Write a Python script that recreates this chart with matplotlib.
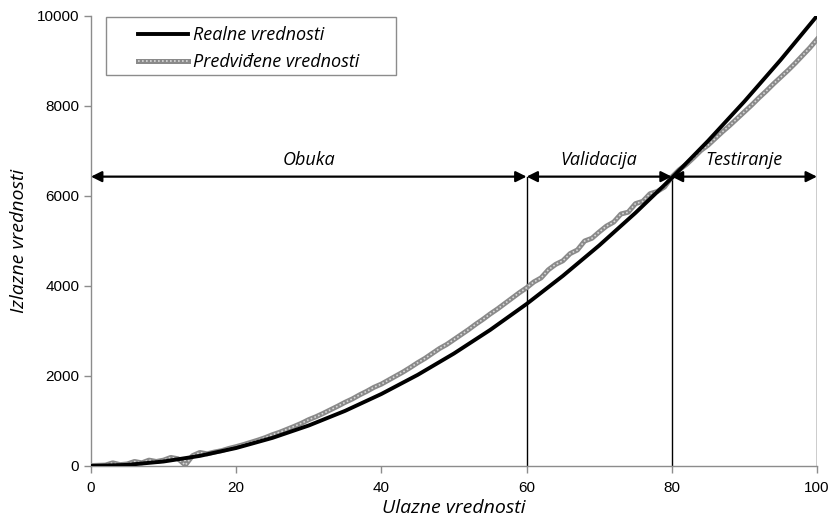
import matplotlib
matplotlib.use("Agg")
import matplotlib.pyplot as plt
from matplotlib.patches import Rectangle

# data
x_real = [0, 5, 10, 15, 20, 25, 30, 35, 40, 45, 50,
          55, 60, 65, 70, 75, 80, 85, 90, 95, 100]
y_real = [0, 25, 100, 225, 400, 625, 900, 1225, 1600, 2025, 2500,
          3025, 3600, 4225, 4900, 5625, 6400, 7225, 8100, 9025, 10000]

x_pred = list(range(0, 101))
y_pred = [10, 15, 20, 70, 30, 45, 100, 70, 130, 100,
          130, 190, 160, 20, 230, 300, 270, 310, 340, 390,
          430, 475, 525, 575, 630, 695, 750, 815, 880, 950,
          1030, 1095, 1170, 1250, 1330, 1415, 1490, 1580, 1660, 1750,
          1820, 1910, 2000, 2090, 2190, 2295, 2390, 2500, 2610, 2700,
          2810, 2920, 3030, 3150, 3260, 3380, 3490, 3610, 3730, 3850,
          3960, 4090, 4180, 4360, 4480, 4560, 4720, 4800, 5000, 5060,
          5200, 5330, 5420, 5600, 5640, 5830, 5880, 6050, 6100, 6200,
          6420, 6580, 6700, 6850, 7010, 7130, 7280, 7430, 7570, 7720,
          7870, 8020, 8180, 8330, 8490, 8640, 8790, 8950, 9120, 9290,
          9480]

# phases: (start, end, label)
phase_bounds = [(0, 60), (60, 80), (80, 100)]
phase_labels = ['Obuka', 'Validacija', 'Testiranje']
arrow_y = 6430

label_font = 'Open Sans'
tick_font = 'Liberation Sans'

fig = plt.figure(figsize=(8.3, 5.29), dpi=100)
ax = fig.add_axes([0.1096, 0.1191, 0.8747, 0.8507])

# predicted series: gray band with light speckle on top
l_pred_a, = ax.plot(x_pred, y_pred, color='#8a8a8a', lw=3.6,
                    solid_joinstyle='round', zorder=3)
l_pred_b, = ax.plot(x_pred, y_pred, color='#d8d8d8', lw=1.2,
                    linestyle=(0, (1, 1.4)), zorder=4)
# real series
l_real, = ax.plot(x_real, y_real, color='black', lw=2.8, zorder=5)

# vertical dividers + phase arrows
for (start, end), lab in zip(phase_bounds, phase_labels):
    top = 10000 if end == 100 else arrow_y
    ax.plot([end, end], [0, top], color='black', lw=1.0, zorder=2)
    ax.annotate('', xy=(start, arrow_y), xytext=(end, arrow_y),
                arrowprops=dict(arrowstyle='<|-|>', color='black', lw=1.6,
                                mutation_scale=16, shrinkA=0, shrinkB=0),
                zorder=6)
    ax.text((start + end) / 2, arrow_y + 180, lab, ha='center', va='bottom',
            fontsize=13, style='italic', family=label_font)

ax.set_xlim(0, 100)
ax.set_ylim(0, 10000)
ax.set_xticks([0, 20, 40, 60, 80, 100])
ax.set_yticks([0, 2000, 4000, 6000, 8000, 10000])

for s in ['top', 'right']:
    ax.spines[s].set_visible(False)
for s in ['left', 'bottom']:
    ax.spines[s].set_color('#8c8c8c')
    ax.spines[s].set_linewidth(1.0)
ax.tick_params(colors='#8c8c8c', length=5, width=1.0, labelcolor='black',
               labelsize=11)
for lab in ax.get_xticklabels() + ax.get_yticklabels():
    lab.set_family(tick_font)
ax.tick_params(axis='x', pad=6)

ax.set_xlabel('Ulazne vrednosti', fontsize=14, style='italic',
              family=label_font, labelpad=3)
ax.set_ylabel('Izlazne vrednosti', fontsize=14, style='italic',
              family=label_font, labelpad=6)

# legend box
ax.add_patch(Rectangle((0.0207, 0.869), 0.399, 0.129, transform=ax.transAxes,
                       facecolor='white', edgecolor='#8c8c8c', lw=1.0,
                       zorder=7))
leg = ax.legend([l_real, (l_pred_a, l_pred_b)],
                ['Realne vrednosti', 'Predviđene vrednosti'],
                loc='upper left', bbox_to_anchor=(0.052, 0.998),
                frameon=False, borderpad=0, handlelength=2.8,
                handletextpad=0.25, labelspacing=0.5,
                prop={'family': label_font, 'style': 'italic', 'size': 13})
leg.set_zorder(8)

fig.savefig('out.png', dpi=100)
